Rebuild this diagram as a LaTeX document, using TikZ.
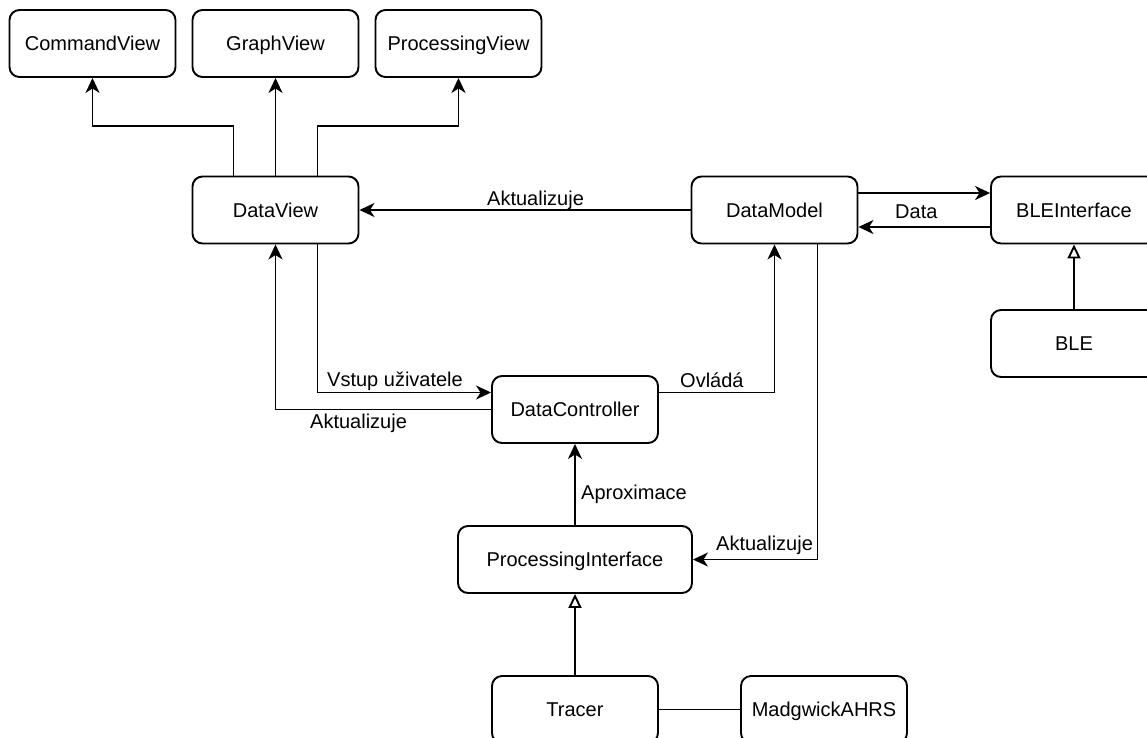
\documentclass[tikz,border=0pt]{standalone}
\usepackage{fontspec}
\setmainfont{Liberation Sans}
\usetikzlibrary{arrows.meta,calc}
\begin{document}
\begin{tikzpicture}[x=1pt,y=-1pt,
  cls/.style={draw, line width=1.9pt, rounded corners=10pt, minimum width=166pt,
    minimum height=67pt, inner sep=0pt, fill=white,
    font=\fontsize{20}{24}\selectfont, text height=14.3pt, text depth=0pt},
  conn/.style={line width=1.9pt},
  arr/.style={conn, -{Stealth[length=15pt,width=14pt,inset=4.5pt]}},
  inh/.style={conn, -{Triangle[open,length=14pt,width=13pt]}},
  lbl/.style={font=\fontsize{20}{24}\selectfont, inner sep=0pt, anchor=base west}]
\useasboundingbox (0,0) rectangle (1147,737);
\fill[white] (0,0) rectangle (1147,737);
\clip (0,0) rectangle (1147,737);

% classes
\node[cls] (cv)  at (92.5,43.5)  {CommandView};
\node[cls] (gv)  at (275.5,43.5) {GraphView};
\node[cls] (pv)  at (458.5,43.5) {ProcessingView};
\node[cls] (dv)  at (275.5,210)  {DataView};
\node[cls] (dm)  at (774.5,210)  {DataModel};
\node[cls] (bi)  at (1074,210)   {BLEInterface};
\node[cls] (ble) at (1074,343.5) {BLE};
\node[cls] (dc)  at (575,409.5)  {DataController};
\node[cls, minimum width=234pt] (pi) at (575,559.5) {ProcessingInterface};
\node[cls] (tr)  at (575,709.5)  {Tracer};
\node[cls] (mw)  at (824,709.5)  {MadgwickAHRS};

% view hierarchy
\draw[arr] ($(dv.north)+(-42,0)$) -- ++(0,-50) -| (cv.south);
\draw[arr] (dv.north) -- (gv.south);
\draw[arr] ($(dv.north)+(42,0)$) -- ++(0,-50) -| (pv.south);

% model <-> view
\draw[arr] (dm.west) -- (dv.east);
\node[lbl] (lupd1) at (487,205) {Aktualizuje};

% model <-> BLE interface
\draw[arr] ($(dm.east)+(0,-17)$) -- ($(bi.west)+(0,-17)$);
\draw[arr] ($(bi.west)+(0,17)$) -- ($(dm.east)+(0,17)$);
\node[lbl] (ldata) at (895,218) {Data};
\draw[inh] (ble.north) -- (bi.south);

% controller
\draw[arr] ($(dv.south)+(42,0)$) |- ($(dc.west)+(0,-17)$);
\node[lbl] (linput) at (327,386) {Vstup uživatele};
\draw[arr] (dc.west) -| (dv.south);
\node[lbl] (lupd2) at (310,428) {Aktualizuje};
\draw[arr] ($(dc.east)+(0,-17)$) -| (dm.south);
\node[lbl] (lctrl) at (680,387) {Ovládá};

% processing
\draw[arr] ($(dm.south)+(43,0)$) |- (pi.east);
\node[lbl] (lupd3) at (716,550) {Aktualizuje};
\draw[arr] (pi.north) -- (dc.south);
\node[lbl] (lapprox) at (581,499) {Aproximace};
\draw[inh] (tr.north) -- (pi.south);
\draw[conn] (tr.east) -- (mw.west);
\end{tikzpicture}
\end{document}
